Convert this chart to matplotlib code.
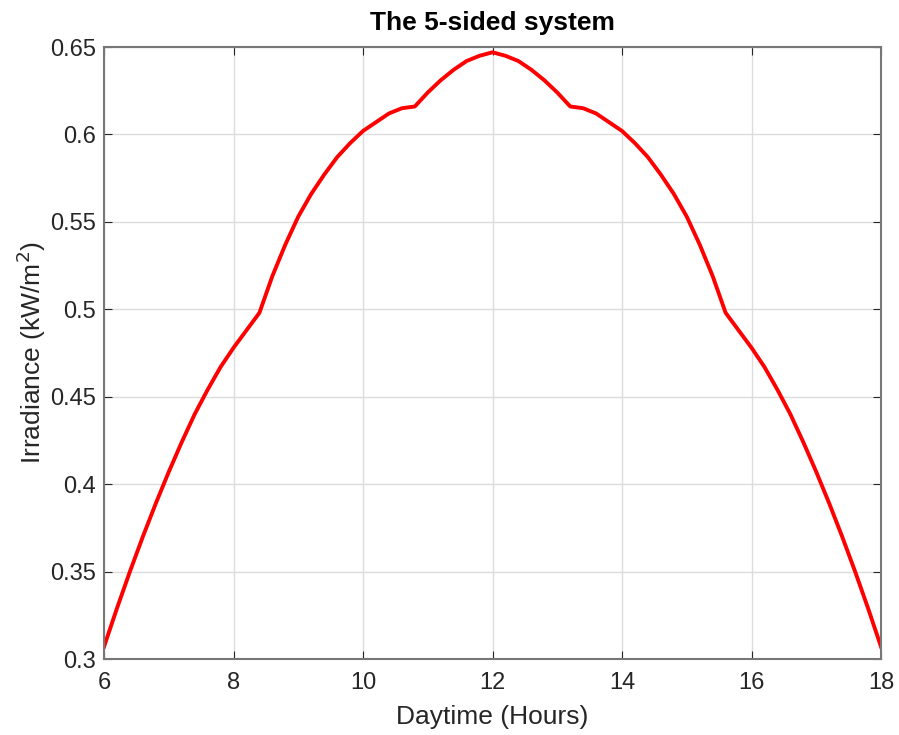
import matplotlib.pyplot as plt
import numpy as np

plt.rcParams['font.family'] = ['Liberation Sans', 'DejaVu Sans']

# daytime hours and irradiance on the 5-sided collector
hours = [6.0, 6.2, 6.4, 6.6, 6.8, 7.0, 7.2, 7.4, 7.6, 7.8, 8.0, 8.2, 8.4,
         8.6, 8.8, 9.0, 9.2, 9.4, 9.6, 9.8, 10.0, 10.2, 10.4, 10.6, 10.8,
         11.0, 11.2, 11.4, 11.6, 11.8, 12.0, 12.2, 12.4, 12.6, 12.8, 13.0,
         13.2, 13.4, 13.6, 13.8, 14.0, 14.2, 14.4, 14.6, 14.8, 15.0, 15.2,
         15.4, 15.6, 15.8, 16.0, 16.2, 16.4, 16.6, 16.8, 17.0, 17.2, 17.4,
         17.6, 17.8, 18.0]
irradiance = [0.307, 0.329, 0.350, 0.370, 0.389, 0.407, 0.424, 0.440, 0.454,
              0.467, 0.478, 0.488, 0.498, 0.519, 0.537, 0.553, 0.566, 0.577,
              0.587, 0.595, 0.602, 0.607, 0.612, 0.615, 0.616, 0.624, 0.631,
              0.637, 0.642, 0.645, 0.647, 0.645, 0.642, 0.637, 0.631, 0.624,
              0.616, 0.615, 0.612, 0.607, 0.602, 0.595, 0.587, 0.577, 0.566,
              0.553, 0.537, 0.519, 0.498, 0.488, 0.478, 0.467, 0.454, 0.440,
              0.424, 0.407, 0.389, 0.370, 0.350, 0.329, 0.307]

xticks = [6, 8, 10, 12, 14, 16, 18]
yticks = [0.3, 0.35, 0.4, 0.45, 0.5, 0.55, 0.6, 0.65]
ytick_labels = ['0.3', '0.35', '0.4', '0.45', '0.5', '0.55', '0.6', '0.65']

fig = plt.figure(figsize=(8.99, 7.35), dpi=100)
ax = fig.add_axes([0.1157, 0.1034, 0.8643, 0.8326])

ax.plot(hours, irradiance, color='red', linewidth=2.8,
        solid_joinstyle='round')

ax.set_xlim(6, 18)
ax.set_ylim(0.3, 0.65)
ax.set_xticks(xticks)
ax.set_yticks(yticks)
ax.set_yticklabels(ytick_labels)

ax.grid(True, color='#dcdcdc', linewidth=1.0)
ax.set_axisbelow(True)
ax.tick_params(direction='in', top=True, right=True, length=6,
               labelsize=17, colors='#262626')
ax.tick_params(axis='x', pad=9.5)
ax.tick_params(axis='y', pad=6)
for s in ax.spines.values():
    s.set_color('#777777')
    s.set_linewidth(1.5)

ax.set_title('The 5-sided system', fontsize=19, fontweight='bold', pad=12)
ax.set_xlabel('Daytime (Hours)', fontsize=19, color='#262626', labelpad=8)
ax.set_ylabel('Irradiance (kW/m$^2$)', fontsize=19, color='#262626', labelpad=1)

plt.savefig('out.png', dpi=100)
